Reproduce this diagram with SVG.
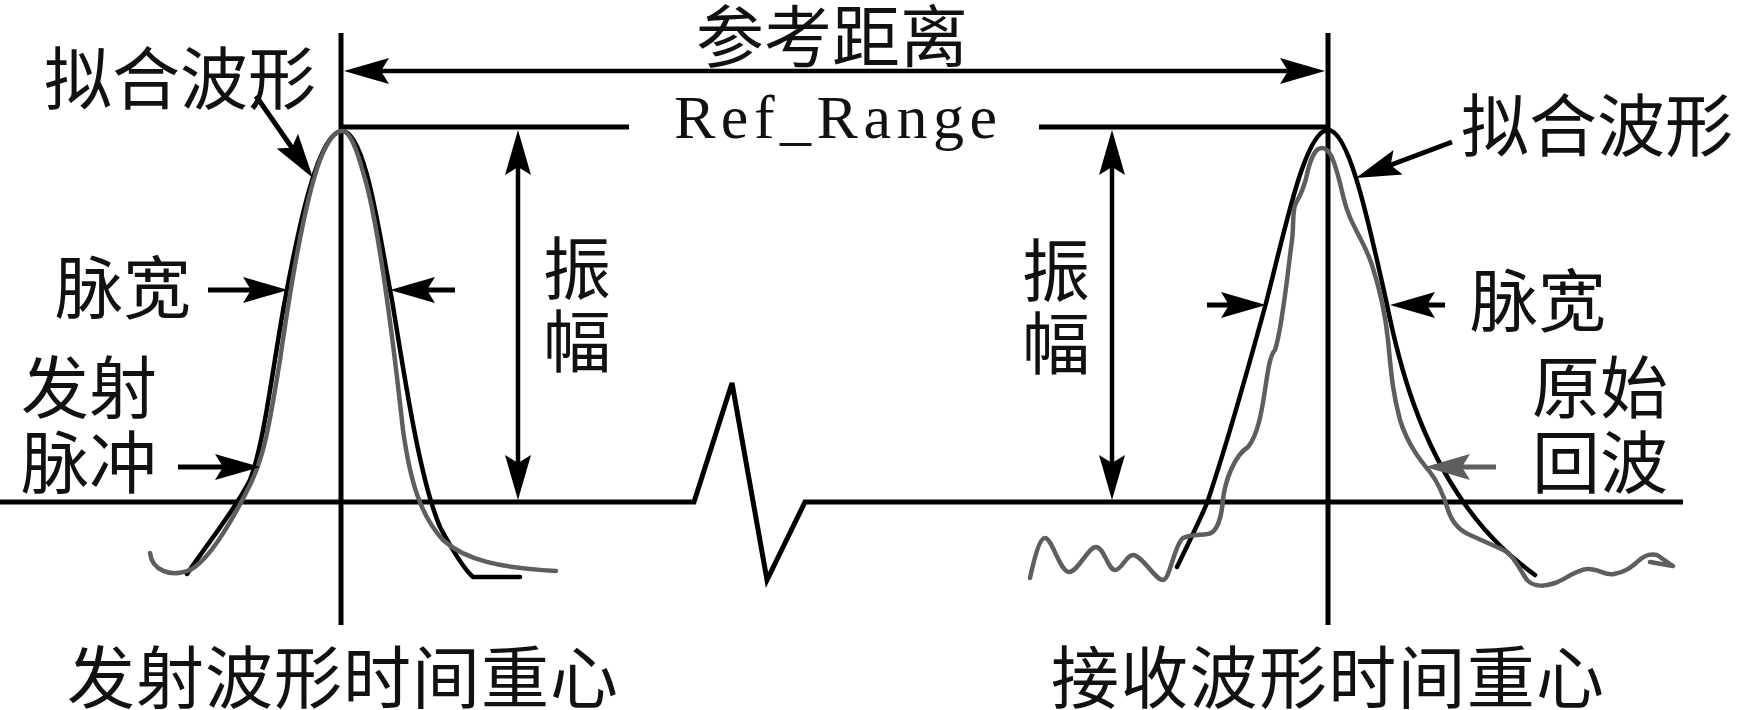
<svg xmlns="http://www.w3.org/2000/svg" width="1738" height="710" viewBox="0 0 1738 710">
<style>
.cn{font-family:"Noto Sans CJK SC","Noto Sans CJK JP",sans-serif;font-size:68px;fill:#111}
.en{font-family:"Liberation Serif","Times New Roman",serif;font-size:62px;fill:#111}
.ln{stroke:#000;stroke-width:5;fill:none}
.blk{stroke:#000;stroke-width:4.5;fill:none;stroke-linejoin:round;stroke-linecap:round}
.gry{stroke:#5e5e5e;stroke-width:4.5;fill:none;stroke-linejoin:round;stroke-linecap:round}
.ar{stroke:#000;stroke-width:5;fill:none;marker-end:url(#ah)}
.dbl{stroke:#000;stroke-width:4.5;fill:none;marker-start:url(#ah);marker-end:url(#ah)}
.ag{stroke:#5e5e5e;stroke-width:5;fill:none;marker-end:url(#ahg)}
</style>
<defs>
<marker id="ah" viewBox="-27 -14 48 28" refX="0" refY="0" markerWidth="48" markerHeight="28" markerUnits="userSpaceOnUse" orient="auto-start-reverse"><path d="M20,0 L-25,-13 L-17,0 L-25,13 Z" fill="#000"/></marker>
<marker id="ahg" viewBox="-27 -14 48 28" refX="0" refY="0" markerWidth="48" markerHeight="28" markerUnits="userSpaceOnUse" orient="auto"><path d="M20,0 L-25,-13 L-17,0 L-25,13 Z" fill="#5e5e5e"/></marker>
</defs>
<rect width="1738" height="710" fill="#fff"/>

<g id="axes">
<polyline class="ln" points="0,502 694,502 732,383 767,580 805,502 1683,502"/>
<line class="ln" x1="341" y1="33" x2="341" y2="625"/>
<line class="ln" x1="1328" y1="33" x2="1328" y2="625"/>
<line class="ln" stroke-width="6" x1="339" y1="127" x2="629" y2="127"/>
<line class="ln" stroke-width="6" x1="1039" y1="127" x2="1330" y2="127"/>
</g>

<g id="tx-wave">
<path class="blk" d="M187,574 C210,540 235,510 250,480 C265,440 272,370 285,300 C298,230 318,131 342,131 C366,131 380,240 392,300 C405,380 420,480 440,527 C455,555 465,570 473,577 L520,577"/>
<path class="gry" d="M150,553 C152,570 170,578 190,570 C210,560 235,515 250,485 C265,455 270,420 280,360 C290,290 305,200 320,160 C328,140 335,131 342,131 C352,131 360,160 368,190 C380,240 392,330 403,430 C410,480 420,515 443,540 C465,560 500,568 556,571"/>
</g>

<g id="rx-wave">
<path class="blk" d="M1177,567 C1190,540 1200,520 1207,503 C1225,450 1245,380 1266,303 C1285,230 1305,130 1328,130 C1350,130 1370,230 1386,300 C1400,370 1420,440 1464,503 C1490,540 1515,560 1535,575"/>
<path class="gry" d="M1030,578 C1035,555 1040,538 1045,538 C1052,538 1060,572 1069,572 C1078,572 1088,547 1096,547 C1104,547 1108,570 1115,570 C1122,570 1126,555 1133,555 C1142,555 1155,580 1163,580 C1170,580 1174,545 1183,538 C1192,533 1205,536 1211,533 C1220,528 1222,510 1223,500 C1225,480 1235,455 1248,447 C1258,435 1262,410 1265,390 C1268,370 1270,355 1275,350 C1282,330 1288,270 1292,240 C1294,225 1292,210 1296,203 C1302,193 1305,185 1308,170 C1312,155 1316,148 1322,148 C1330,148 1334,160 1340,183 C1345,205 1348,215 1355,228 C1362,242 1367,250 1372,265 C1380,290 1385,310 1388,340 C1391,370 1392,390 1400,420 C1408,445 1420,460 1430,472 C1440,485 1445,500 1448,510 C1452,522 1458,530 1470,535 C1485,542 1500,548 1507,552 C1515,558 1520,570 1527,580 C1535,588 1545,586 1555,583 C1565,580 1575,570 1587,569 C1598,568 1605,576 1614,574 C1625,572 1630,568 1636,563 C1642,557 1648,553 1657,555 L1673,566 L1650,562"/>
</g>

<g id="connectors">
<line class="dbl" stroke-width="6" x1="364" y1="71" x2="1305" y2="71"/>
<line class="dbl" x1="518" y1="150" x2="518" y2="480"/>
<line class="dbl" x1="1112" y1="150" x2="1112" y2="480"/>
<line class="ar" x1="256" y1="96" x2="301.6" y2="161.6"/>
<line class="ar" x1="208" y1="290" x2="268" y2="290"/>
<line class="ar" x1="455" y1="290" x2="410" y2="290"/>
<line class="ar" x1="178" y1="467" x2="240" y2="467"/>
<line class="ar" x1="1452" y1="142" x2="1374.7" y2="171"/>
<line class="ar" x1="1207" y1="305" x2="1246" y2="305"/>
<line class="ar" x1="1445" y1="305" x2="1410" y2="305"/>
<line class="ag" x1="1496" y1="467" x2="1445" y2="467"/>
</g>

<g id="label-ref-distance"><text class="cn" x="696" y="62">参考距离</text></g>
<g id="label-ref-range"><text class="en" x="674" y="138" textLength="323" lengthAdjust="spacing">Ref_Range</text></g>
<g id="label-fit-left"><text class="cn" x="44" y="104">拟合波形</text></g>
<g id="label-width-left"><text class="cn" x="55" y="313">脉宽</text></g>
<g id="label-tx-pulse"><text class="cn" x="21" y="413">发射<tspan x="21" dy="75">脉冲</tspan></text></g>
<g id="label-amp-left"><text class="cn" x="543" y="294">振<tspan x="543" dy="73">幅</tspan></text></g>
<g id="label-amp-right"><text class="cn" x="1022" y="296">振<tspan x="1022" dy="73">幅</tspan></text></g>
<g id="label-fit-right"><text class="cn" x="1461" y="151">拟合波形</text></g>
<g id="label-width-right"><text class="cn" x="1470" y="326">脉宽</text></g>
<g id="label-raw-echo"><text class="cn" x="1532" y="413">原始<tspan x="1532" dy="75">回波</tspan></text></g>
<g id="label-tx-center"><text class="cn" x="67" y="703" letter-spacing="1">发射波形时间重心</text></g>
<g id="label-rx-center"><text class="cn" x="1051" y="703" letter-spacing="1.3">接收波形时间重心</text></g>
</svg>
